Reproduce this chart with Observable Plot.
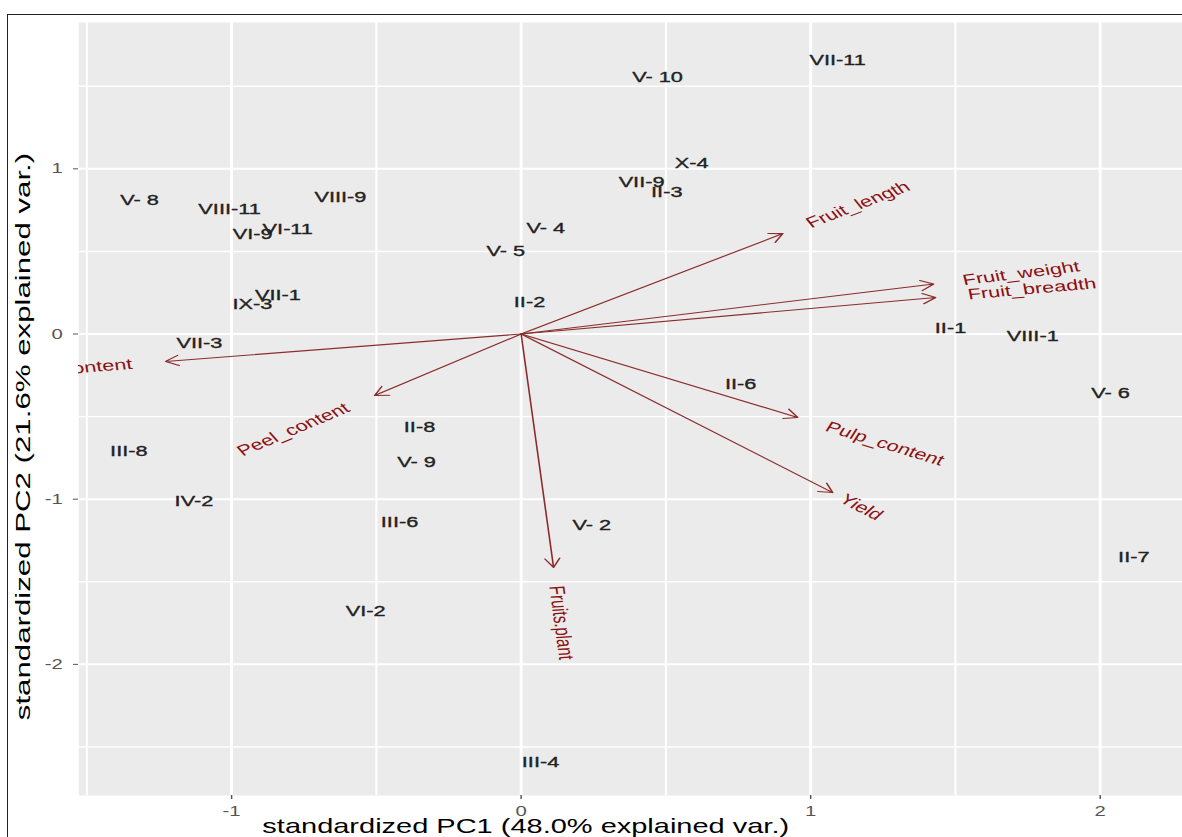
<!DOCTYPE html>
<html>
<head>
<meta charset="utf-8">
<script src="https://cdn.jsdelivr.net/npm/d3@7"></script>
<script src="https://cdn.jsdelivr.net/npm/@observablehq/plot@0.6"></script>
<style>
  html, body { margin: 0; padding: 0; background: #fff; width: 1182px; height: 837px; overflow: hidden; }
  #chart { position: absolute; left: 0; top: 0; }
  #border { position: absolute; left: 7px; top: 14px; width: 1200px; height: 900px;
            border-top: 1.5px solid #222; border-left: 1.5px solid #222; pointer-events: none; }
</style>
</head>
<body>
<div id="chart"></div>
<div id="border"></div>
<script>
// ---- Data ----
const obsLabels = ["V- 10", "VII-11", "X-4", "VII-9", "II-3", "V- 4", "V- 5", "V- 8", "VIII-11", "VI-9",
  "VI-11", "VIII-9", "VII-1", "IX-3", "VII-3", "III-8", "IV-2", "II-2", "II-6", "II-8",
  "V- 9", "III-6", "V- 2", "VI-2", "III-4", "II-1", "VIII-1", "V- 6", "II-7"];
const obsPC1 = [0.471, 1.093, 0.589, 0.416, 0.503, 0.085, -0.053, -1.318, -1.007, -0.927,
  -0.806, -0.624, -0.840, -0.928, -1.111, -1.355, -1.130, 0.029, 0.758, -0.351,
  -0.361, -0.420, 0.244, -0.537, 0.067, 1.483, 1.767, 2.036, 2.116];
const obsPC2 = [1.553, 1.656, 1.032, 0.917, 0.857, 0.639, 0.500, 0.812, 0.758, 0.607,
  0.637, 0.827, 0.233, 0.179, -0.058, -0.711, -1.014, 0.190, -0.306, -0.566,
  -0.778, -1.141, -1.159, -1.680, -2.594, 0.033, -0.015, -0.360, -1.353];

const varNames = ["Fruit_length", "Fruit_weight", "Fruit_breadth", "Pulp_content", "Yield",
  "Fruits.plant", "Peel_content", "Seed_content"];
const varPC1 = [0.904, 1.425, 1.432, 0.955, 1.076, 0.112, -0.506, -1.228];
const varPC2 = [0.608, 0.303, 0.221, -0.505, -0.960, -1.413, -0.372, -0.166];

const xMajor = [-1, 0, 1, 2];
const xMinor = [-1.5, -0.5, 0.5, 1.5];
const yMajor = [-2, -1, 0, 1];
const yMinor = [-2.5, -1.5, -0.5, 0.5, 1.5];
const xTitle = "standardized PC1 (48.0% explained var.)";
const yTitle = "standardized PC2 (21.6% explained var.)";
const xDomain = [-1.528, 2.285];
const yDomain = [-2.794, 1.886];

// ---- Layout (the reference image is stretched horizontally) ----
const S = 1.45, W = 1182, H = 837, w0 = W / S;
const mL = 78 / S, mR = 0, mT = 22, mB = 42;
const xs = Plot.scale({x: {domain: xDomain, range: [mL, w0 - mR]}});
const ys = Plot.scale({y: {domain: yDomain, range: [H - mB, mT]}});

const obs = obsLabels.map((label, i) => ({label, pc1: obsPC1[i], pc2: obsPC2[i]}));
const vars = varNames.map((name, i) => {
  const dx = xs.apply(varPC1[i]) - xs.apply(0);
  const dy = ys.apply(varPC2[i]) - ys.apply(0);
  let a = Math.atan2(dy, dx) * 180 / Math.PI;
  if (a > 90) a -= 180; else if (a < -90) a += 180;
  return {name, pc1: varPC1[i], pc2: varPC2[i], angle: a, side: Math.sign(varPC1[i])};
});

const font = "'Liberation Sans', Arial, Helvetica, sans-serif";
const frameMidX = (mL + w0 - mR) / 2;
const frameMidY = (mT + H - mB) / 2;

const plot = Plot.plot({
  width: w0, height: H,
  marginLeft: mL, marginRight: mR, marginTop: mT, marginBottom: mB,
  x: {domain: xDomain, label: null},
  y: {domain: yDomain, label: null},
  style: {fontFamily: font, background: "transparent", overflow: "visible"},
  marks: [
    Plot.frame({fill: "#ebebeb", stroke: null}),
    Plot.ruleX(xMinor, {stroke: "#fff", strokeWidth: 1.4}),
    Plot.ruleY(yMinor, {stroke: "#fff", strokeWidth: 1.4}),
    Plot.ruleX(xMajor, {stroke: "#fff", strokeWidth: 2}),
    Plot.ruleY(yMajor, {stroke: "#fff", strokeWidth: 2}),
    Plot.axisX({ticks: xMajor, tickSize: 4, tickPadding: 7, fontSize: 14, color: "#555",
      tickFormat: d => String(d), label: null}),
    Plot.axisY({ticks: yMajor, tickSize: 3.5, tickPadding: 7.5, fontSize: 14, color: "#555",
      tickFormat: d => String(d), label: null}),
    Plot.text(obs, {x: "pc1", y: "pc2", text: "label", fontSize: 15, fill: "#222",
      stroke: "#222", strokeWidth: 0.35}),
    Plot.arrow(vars, {x1: 0, y1: 0, x2: "pc1", y2: "pc2", stroke: "#8b2c2c",
      strokeWidth: 1.1, headLength: 14, headAngle: 60}),
    Plot.text(vars.filter(d => d.side > 0), {x: "pc1", y: "pc2", text: "name", rotate: "angle",
      textAnchor: "start", fontSize: 15, fill: "#8b1010", clip: true}),
    Plot.text(vars.filter(d => d.side < 0), {x: "pc1", y: "pc2", text: "name", rotate: "angle",
      textAnchor: "end", fontSize: 15, fill: "#8b1010", clip: true}),
    Plot.text([xTitle], {frameAnchor: "bottom", text: d => d, lineAnchor: "middle", textAnchor: "middle",
      dy: 31, dx: 525 / S - frameMidX, fontSize: 20, fill: "#000"}),
    Plot.text([yTitle], {frameAnchor: "left", text: d => d, rotate: -90, lineAnchor: "middle",
      textAnchor: "middle", dx: 23 / S - mL, dy: 436 - frameMidY, fontSize: 13.5, fill: "#000"})
  ]
});

document.getElementById("chart").append(plot);
plot.setAttribute("viewBox", `0 0 ${w0} ${H}`);
plot.setAttribute("preserveAspectRatio", "none");
plot.setAttribute("width", W);
plot.setAttribute("height", H);
plot.style.width = W + "px";
plot.style.height = H + "px";
plot.style.maxWidth = "none";

// ggbiplot-style label offset: hjust = (1 - 1.5 * sign(x)) / 2
const varByName = new Map(vars.map(d => [d.name, d]));
plot.querySelectorAll("text").forEach(t => {
  const v = varByName.get(t.textContent);
  if (v) t.setAttribute("dx", v.side * 0.25 * t.getComputedTextLength());
  if (t.textContent === yTitle) {
    // the y title in the reference is condensed: stretch it along its reading direction
    const k = 567 / t.getComputedTextLength();
    t.setAttribute("transform", (t.getAttribute("transform") || "") + ` scale(${k},1)`);
  }
});
</script>
</body>
</html>
